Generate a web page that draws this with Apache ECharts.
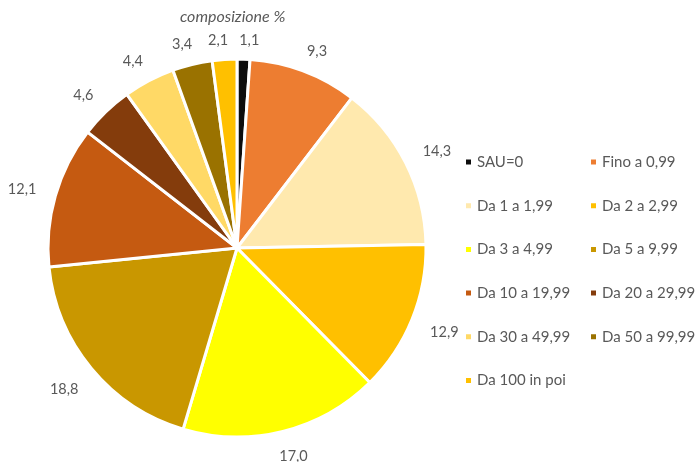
<!DOCTYPE html>
<html>
<head>
<meta charset="utf-8">
<script src="https://cdn.jsdelivr.net/npm/echarts@6/dist/echarts.min.js"></script>
<style>
  html, body { margin: 0; padding: 0; background: #fff; }
  #chart { width: 696px; height: 462px; }
</style>
</head>
<body>
<div id="chart"></div>
<script>
// classi di SAU e composizione %
const classi = ['SAU=0', 'Fino a 0,99', 'Da 1 a 1,99', 'Da 2 a 2,99', 'Da 3 a 4,99', 'Da 5 a 9,99',
  'Da 10 a 19,99', 'Da 20 a 29,99', 'Da 30 a 49,99', 'Da 50 a 99,99', 'Da 100 in poi'];
const valori = [1.1, 9.3, 14.3, 12.9, 17.0, 18.8, 12.1, 4.6, 4.4, 3.4, 2.1];
const colori = ['#0D0D0D', '#ED7D31', '#FFE9AE', '#FFC000', '#FFFF00', '#C99700',
  '#C55A11', '#843C0C', '#FFD966', '#9A7200', '#FFC000'];

const colonnaSx = classi.filter((c, i) => i % 2 === 0);
const colonnaDx = classi.filter((c, i) => i % 2 === 1);

const centro = [237, 248];
const raggio = 189;
const totale = valori.reduce((a, b) => a + b, 0);

// angolo medio di ogni fetta (da ore 12, senso orario)
const angoliMedi = [];
let cum = 0;
valori.forEach(v => {
  angoliMedi.push((cum + v / 2) / totale * 2 * Math.PI);
  cum += v;
});

const chart = echarts.init(document.getElementById('chart'));

const legendBase = {
  orient: 'vertical',
  top: 154,
  padding: 0,
  itemWidth: 7,
  itemHeight: 7,
  itemGap: 27.7,
  icon: 'rect',
  textStyle: { color: '#595959', fontSize: 15, fontFamily: 'Lato', lineHeight: 16 }
};

chart.setOption({
  animation: false,
  title: {
    text: 'composizione %',
    left: 175,
    top: 4,
    textStyle: { color: '#595959', fontSize: 16, fontStyle: 'italic', fontWeight: 'normal', fontFamily: 'Lato' }
  },
  legend: [
    Object.assign({}, legendBase, { left: 464, data: colonnaSx }),
    Object.assign({}, legendBase, { left: 589, data: colonnaDx })
  ],
  series: [{
    type: 'pie',
    center: centro,
    radius: [0, raggio],
    startAngle: 90,
    clockwise: true,
    avoidLabelOverlap: false,
    itemStyle: { borderColor: '#fff', borderWidth: 3 },
    label: {
      show: true,
      position: 'outside',
      color: '#595959',
      fontSize: 14.5,
      fontFamily: 'Lato',
      formatter: p => p.value.toFixed(1).replace('.', ',')
    },
    labelLine: { show: false },
    // etichette fuori dal bordo, centrate sulla direzione della fetta
    labelLayout: p => {
      const a = angoliMedi[p.dataIndex];
      const s = Math.sin(a), c = Math.cos(a);
      const w = p.labelRect.width;
      const d = raggio + 14 + Math.abs(w / 2 * s) + Math.abs(6 * c);
      return {
        x: centro[0] + d * s + 5 * Math.sign(s),
        y: centro[1] - d * c + 2,
        align: 'center',
        verticalAlign: 'middle'
      };
    },
    data: classi.map((c, i) => ({ name: c, value: valori[i], itemStyle: { color: colori[i] } }))
  }]
});
</script>
</body>
</html>
